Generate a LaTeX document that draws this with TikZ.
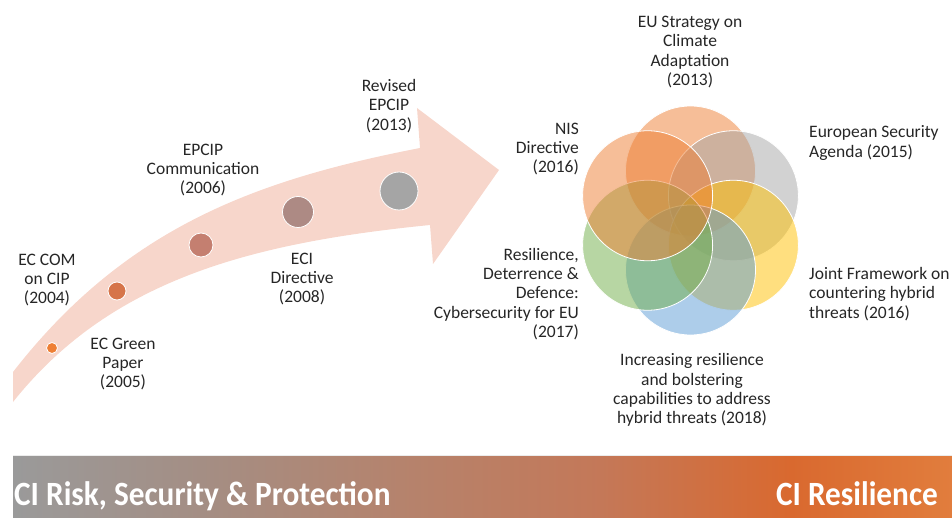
\documentclass[tikz,border=0pt]{standalone}
\usepackage{fontspec}
\setmainfont{Carlito}
\newfontfamily\bannerfont{Carlito}[FakeStretch=0.92]
\usepackage{tikz}

\definecolor{ink}{HTML}{262626}
\definecolor{band}{HTML}{F7D6CB}
\definecolor{accent}{HTML}{ED7D31}
\definecolor{neutral}{HTML}{A5A5A5}
\definecolor{gold}{HTML}{FFC000}
\definecolor{sky}{HTML}{5B9BD5}
\definecolor{leaf}{HTML}{70AD47}
\definecolor{dotA}{HTML}{EE7F35}
\definecolor{dotB}{HTML}{D6754A}
\definecolor{dotC}{HTML}{C47F70}
\definecolor{dotD}{HTML}{AD8A84}
\definecolor{dotE}{HTML}{A5A5A5}
\definecolor{bnA}{HTML}{9A9A9A}
\definecolor{bnB}{HTML}{A48E84}
\definecolor{bnC}{HTML}{B5836D}
\definecolor{bnD}{HTML}{C47858}
\definecolor{bnE}{HTML}{D9692F}
\definecolor{bnF}{HTML}{E17D3D}

\pgfdeclarehorizontalshading{banner}{100bp}{color(0bp)=(bnA); color(25bp)=(bnA);
  color(35bp)=(bnB); color(45.6bp)=(bnC); color(56.3bp)=(bnD);
  color(66.4bp)=(bnE); color(75bp)=(bnF); color(100bp)=(bnF)}

\tikzstyle{lbl} = [align=center,inner sep=0pt,text=ink,font={\fontsize{17.5}{19.3}\selectfont}]
\tikzstyle{dot} = [circle,draw=white,line width=0.8pt,inner sep=0pt]
\tikzstyle{ring} = [circle,draw=white,line width=0.8pt,fill opacity=0.5,inner sep=0pt,minimum size=130pt]
\tikzstyle{tag} = [inner sep=0pt,text=white,font={\bannerfont\bfseries\fontsize{34}{36}\selectfont}]

\begin{document}
\begin{tikzpicture}[x=1pt,y=-1pt]

    \useasboundingbox (0,0) rectangle (952,518);

% Timeline arrow and its milestones

    \fill[band] (13,372) .. controls (125,228) and (255,180) .. (420,148)
        -- (417,108) -- (499,170) -- (433,264) -- (430,225)
        .. controls (250,243) and (110,280) .. (13,402) -- cycle;

    \node[dot,fill=dotA,minimum size=11pt] at (52,348) (y04) {};
    \node[dot,fill=dotB,minimum size=18pt] at (117,291) (y05) {};
    \node[dot,fill=dotC,minimum size=24pt] at (201,245) (y06) {};
    \node[dot,fill=dotD,minimum size=31pt] at (298,212) (y08) {};
    \node[dot,fill=dotE,minimum size=38pt] at (399,191) (y13) {};

    \node[lbl] at (47,280) (com) {EC COM\\on CIP\\(2004)};
    \node[lbl] at (123,364) (green) {EC Green\\Paper\\(2005)};
    \node[lbl] at (203,170) (comm) {EPCIP\\Communication\\(2006)};
    \node[lbl] at (302,279) (eci) {ECI\\Directive\\(2008)};
    \node[lbl] at (389,106) (rev) {Revised\\EPCIP\\(2013)};

% Overlapping policy circles

    \def\cx{690.5}
    \def\cy{220.5}
    \node[ring,fill=accent] at (\cx,171) (clim) {};
    \node[ring,fill=neutral] at (733.4,195.75) (agenda) {};
    \node[ring,fill=gold] at (733.4,245.25) (joint) {};
    \node[ring,fill=sky] at (\cx,270) (hybrid) {};
    \node[ring,fill=leaf] at (647.6,245.25) (cyber) {};
    \node[ring,fill=accent] at (647.6,195.75) (nis) {};

    \node[lbl] at (690,52) (climtxt) {EU Strategy on\\Climate\\Adaptation\\(2013)};
    \node[lbl,align=right,anchor=east] at (579,149) (nistxt) {NIS\\Directive\\(2016)};
    \node[lbl,align=left,anchor=west] at (809,143) (agendatxt) {European Security\\Agenda (2015)};
    \node[lbl,align=left,anchor=west] at (809,294) (jointtxt) {Joint Framework on\\countering hybrid\\threats (2016)};
    \node[lbl,align=right,anchor=east] at (579,294) (cybertxt) {Resilience,\\Deterrence \&\\Defence:\\Cybersecurity for EU\\(2017)};
    \node[lbl] at (692,390) (hybridtxt) {Increasing resilience\\and bolstering\\capabilities to address\\hybrid threats (2018)};

% Bottom banner

    \shade[shading=banner] (13,455) rectangle (952,518);
    \draw[white!85!gray,line width=1pt] (13,455.5) -- (952,455.5);
    \node[tag,anchor=base west] at (14,505) (risk) {CI Risk, Security \& Protection};
    \node[tag,anchor=base east] at (938,505) (resil) {CI Resilience};

\end{tikzpicture}
\end{document}
